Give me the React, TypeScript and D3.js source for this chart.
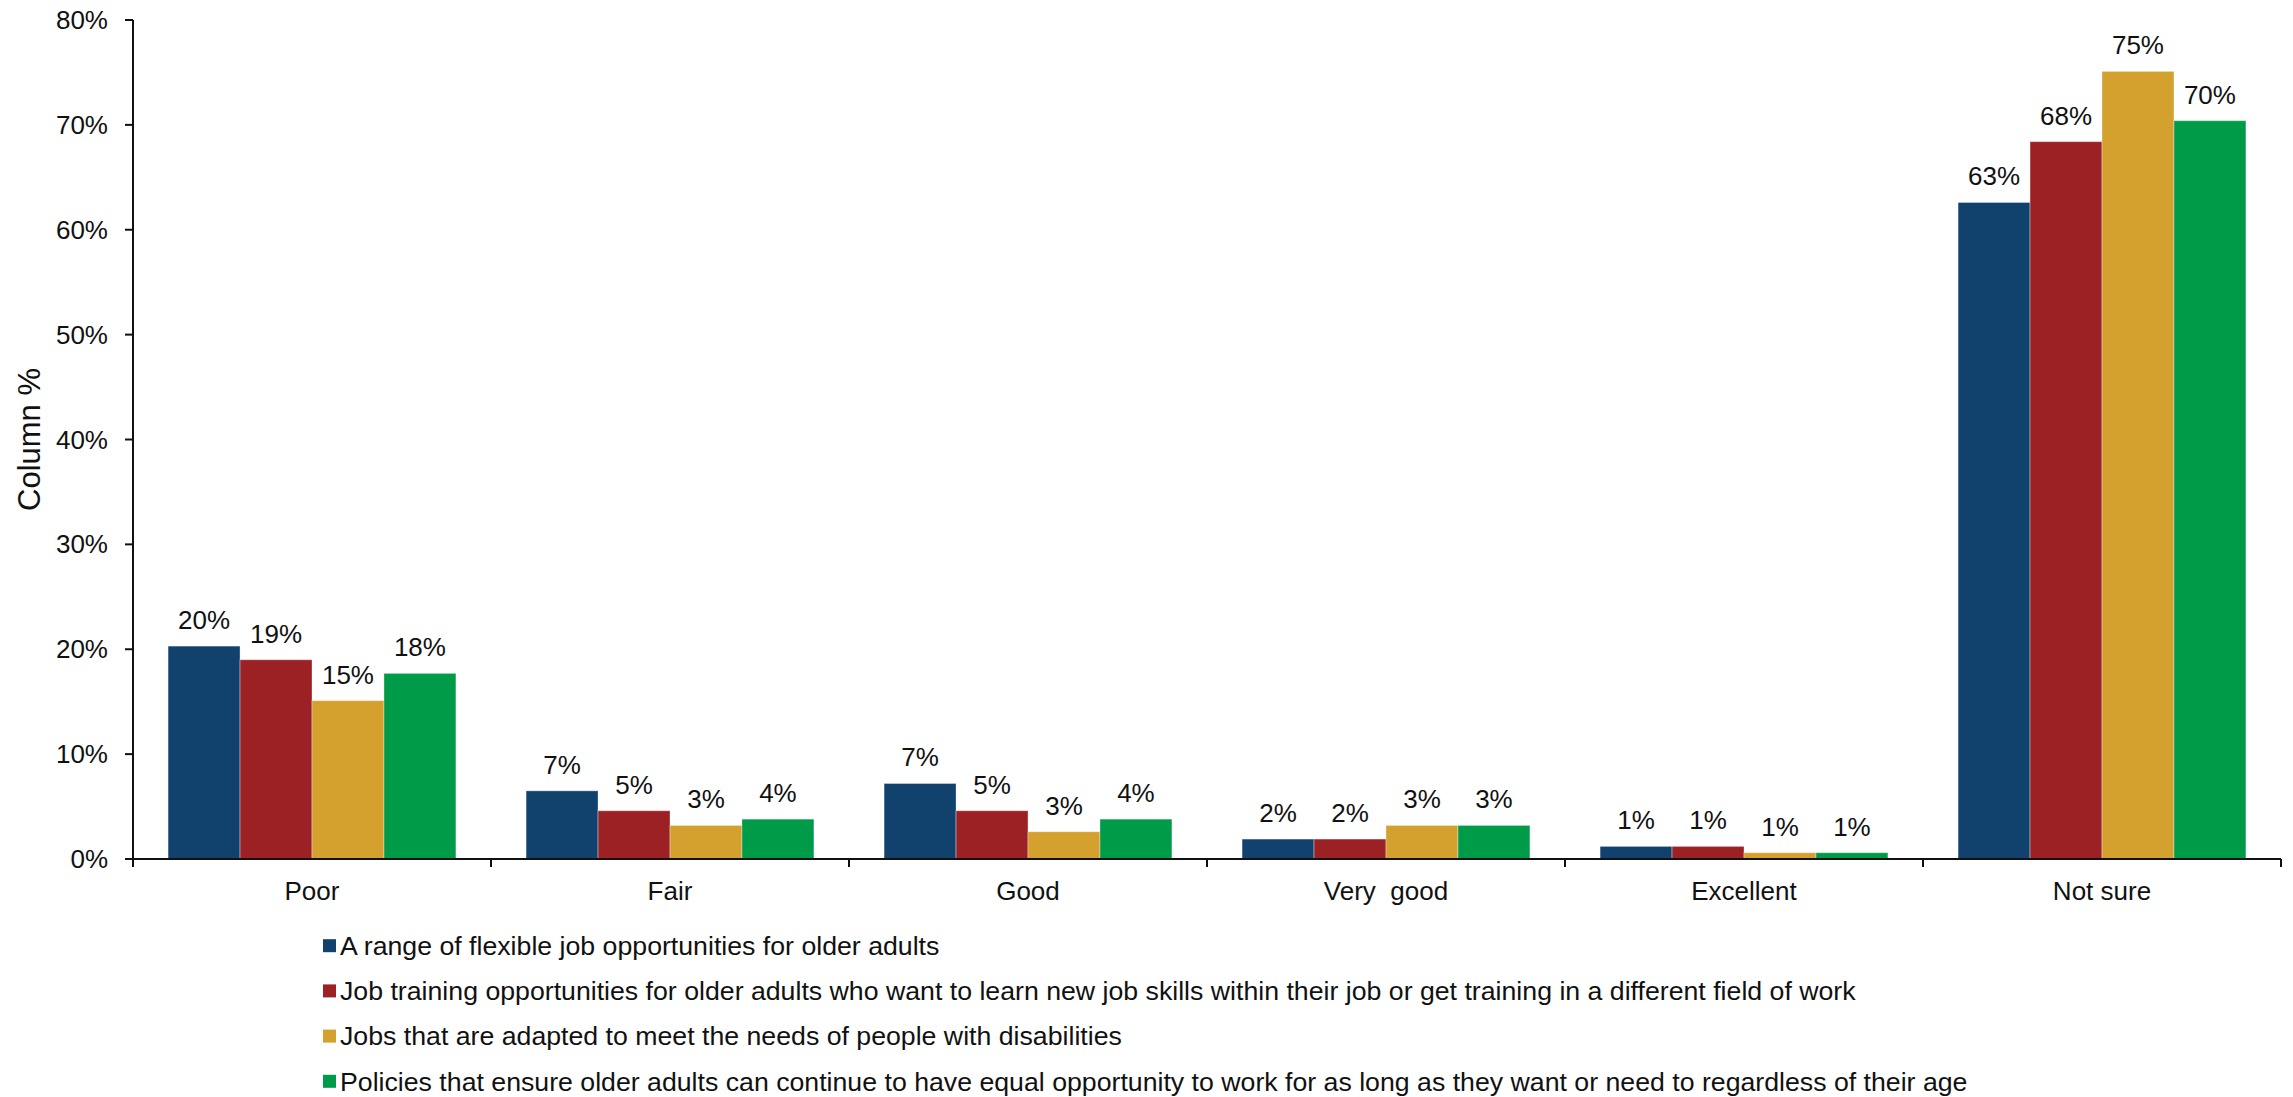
import React from "react";
import * as d3 from "d3";

const categories = ["Poor", "Fair", "Good", "Very  good", "Excellent", "Not sure"];
const seriesNames = [
  "A range of flexible job opportunities for older adults",
  "Job training opportunities for older adults who want to learn new job skills within their job or get training in a different field of work",
  "Jobs that are adapted to meet the needs of people with disabilities",
  "Policies that ensure older adults can continue to have equal opportunity to work for as long as they want or need to regardless of their age",
];
const seriesColors = ["#11426E", "#9C2124", "#D4A02E", "#009B48"];
const flexibleJobs = [20.3, 6.5, 7.2, 1.9, 1.2, 62.6];
const jobTraining = [19.0, 4.6, 4.6, 1.9, 1.2, 68.4];
const adaptedJobs = [15.1, 3.2, 2.6, 3.2, 0.6, 75.1];
const equalPolicies = [17.7, 3.8, 3.8, 3.2, 0.6, 70.4];
const seriesValues = [flexibleJobs, jobTraining, adaptedJobs, equalPolicies];
const yTicks = [0, 10, 20, 30, 40, 50, 60, 70, 80];

const W = 2293;
const H = 1097;
const FONT = "'Liberation Sans', Arial, sans-serif";

export default function App() {
  const left = 133;
  const right = 2281;
  const top = 20;
  const bottom = 859;

  const y = d3.scaleLinear().domain([0, 80]).range([bottom, top]);
  const x0 = d3.scaleBand<string>().domain(categories).range([left, right]).padding(0);
  const bw = x0.bandwidth();
  const x1 = d3
    .scaleBand<number>()
    .domain(d3.range(seriesNames.length))
    .range([bw * 0.098, bw * 0.902])
    .padding(0);

  return (
    <svg
      width={W}
      height={H}
      style={{ position: "absolute", left: 0, top: 0, display: "block", background: "#fff" }}
      fontFamily={FONT}
    >
      {/* bars */}
      {categories.map((c, ci) => (
        <g key={c} transform={`translate(${x0(c)},0)`}>
          {seriesValues.map((vals, si) => {
            const v = vals[ci];
            const bx = x1(si)!;
            const by = y(v);
            return (
              <g key={si}>
                <rect
                  x={bx}
                  y={by}
                  width={x1.bandwidth()}
                  height={bottom - by}
                  fill={seriesColors[si]}
                  stroke="rgba(255,255,255,0.35)"
                  strokeWidth={1}
                />
                <text
                  x={bx + x1.bandwidth() / 2}
                  y={by - 17}
                  textAnchor="middle"
                  fontSize={26}
                  fill="#111"
                >
                  {`${Math.round(v)}%`}
                </text>
              </g>
            );
          })}
        </g>
      ))}

      {/* y axis */}
      <line x1={left} x2={left} y1={y(80)} y2={bottom + 8} stroke="#111" strokeWidth={2} />
      {yTicks.map((t) => (
        <g key={t}>
          <line x1={left - 8} x2={left} y1={y(t)} y2={y(t)} stroke="#111" strokeWidth={2} />
          <text x={108} y={y(t)} dy="0.35em" textAnchor="end" fontSize={26} fill="#111">
            {`${t}%`}
          </text>
        </g>
      ))}
      <text
        transform={`translate(29,${(top + bottom) / 2}) rotate(-90)`}
        dy="0.35em"
        textAnchor="middle"
        fontSize={31}
        fill="#111"
      >
        Column %
      </text>

      {/* x axis */}
      <line x1={left - 8} x2={right} y1={bottom} y2={bottom} stroke="#111" strokeWidth={2} />
      {categories.map((c) => (
        <line
          key={"t" + c}
          x1={x0(c)! + bw}
          x2={x0(c)! + bw}
          y1={bottom}
          y2={bottom + 8}
          stroke="#111"
          strokeWidth={2}
        />
      ))}
      {categories.map((c) => (
        <text
          key={"l" + c}
          x={x0(c)! + bw / 2}
          y={900}
          textAnchor="middle"
          fontSize={26}
          fill="#111"
          style={{ whiteSpace: "pre" }}
        >
          {c}
        </text>
      ))}

      {/* legend */}
      {seriesNames.map((name, i) => {
        const cy = 945.7 + i * 45.2;
        return (
          <g key={name}>
            <rect x={323} y={cy - 6.5} width={13} height={13} fill={seriesColors[i]} />
            <text x={340} y={cy} dy="0.35em" fontSize={26.7} fill="#111">
              {name}
            </text>
          </g>
        );
      })}
    </svg>
  );
}
